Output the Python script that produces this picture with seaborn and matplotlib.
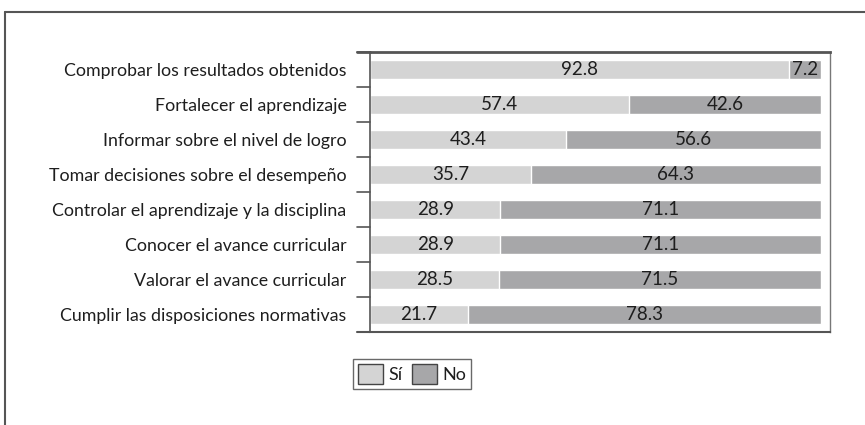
import matplotlib
matplotlib.use("Agg")
import matplotlib.pyplot as plt
import seaborn as sns
import pandas as pd
from matplotlib.patches import Patch
from matplotlib.lines import Line2D

categories = [
    "Comprobar los resultados obtenidos",
    "Fortalecer el aprendizaje",
    "Informar sobre el nivel de logro",
    "Tomar decisiones sobre el desempeño",
    "Controlar el aprendizaje y la disciplina",
    "Conocer el avance curricular",
    "Valorar el avance curricular",
    "Cumplir las disposiciones normativas",
]
si_values = [92.8, 57.4, 43.4, 35.7, 28.9, 28.9, 28.5, 21.7]
no_values = [7.2, 42.6, 56.6, 64.3, 71.1, 71.1, 71.5, 78.3]

si_color = "#d4d4d4"
no_color = "#a7a7a9"
text_color = "#1e1e1e"

df = pd.DataFrame({"cat": categories, "si": si_values, "no": no_values})
df["total"] = df["si"] + df["no"]

sns.set_style("white")
plt.rcParams["font.family"] = ["Lato", "DejaVu Sans"]

fig = plt.figure(figsize=(8.65, 4.25), dpi=100)
ax = fig.add_axes([370 / 865, 1 - 332 / 425, 460 / 865, 280 / 425])

sns.barplot(data=df, x="total", y="cat", color=no_color, width=0.56,
            saturation=1, ax=ax, orient="h")
sns.barplot(data=df, x="si", y="cat", color=si_color, width=0.56,
            saturation=1, ax=ax, orient="h")

for i, row in df.iterrows():
    ax.text(row["si"] / 2, i, f"{row['si']:.1f}", ha="center", va="center",
            fontsize=13.5, color=text_color)
    ax.text(row["si"] + row["no"] / 2, i, f"{row['no']:.1f}", ha="center",
            va="center", fontsize=13.5, color=text_color)

ax.set_xlim(0, 102)
ax.set_ylim(len(categories) - 0.5, -0.5)
ax.set_xlabel("")
ax.set_ylabel("")
ax.set_xticks([])
ax.set_yticks(range(len(categories)))
ax.set_yticklabels(categories, fontsize=12.8, color=text_color)
ax.tick_params(axis="y", length=0, pad=17)

# boundary tick marks on the left
for b in [i + 0.5 for i in range(-1, len(categories) - 1)]:
    ax.plot([-0.028, 0], [b, b], transform=ax.get_yaxis_transform(),
            color="#555555", lw=1.2, clip_on=False)

for side in ["left", "bottom", "top"]:
    ax.spines[side].set_color("#555555")
ax.spines["left"].set_linewidth(1.2)
ax.spines["bottom"].set_linewidth(1.5)
ax.spines["top"].set_linewidth(2)
ax.spines["right"].set_color("#777777")
ax.spines["right"].set_linewidth(1)
ax.plot([-0.028, 0], [1, 1], transform=ax.transAxes, color="#555555",
        lw=2, clip_on=False)
ax.plot([-0.028, 0], [0, 0], transform=ax.transAxes, color="#555555",
        lw=1.5, clip_on=False)

handles = [Patch(facecolor=si_color, edgecolor="#444444", label="Sí"),
           Patch(facecolor=no_color, edgecolor="#444444", label="No")]
leg = fig.legend(handles=handles, loc="center", ncol=2,
                 bbox_to_anchor=(412 / 865, 1 - 374 / 425), frameon=True,
                 fancybox=False, fontsize=13, handlelength=1.4,
                 handleheight=1.4, handletextpad=0.3, columnspacing=0.5,
                 borderpad=0.25, borderaxespad=0)
leg.get_frame().set_edgecolor("#444444")
leg.get_frame().set_linewidth(1)
for t in leg.get_texts():
    t.set_color(text_color)

# outer frame (left and top edges)
fig.add_artist(Line2D([5 / 865, 5 / 865], [0, 1 - 12 / 425],
                      transform=fig.transFigure, color="#555555", lw=1.5))
fig.add_artist(Line2D([5 / 865, 1], [1 - 12 / 425, 1 - 12 / 425],
                      transform=fig.transFigure, color="#555555", lw=1.5))

fig.savefig("out.png", dpi=100)
